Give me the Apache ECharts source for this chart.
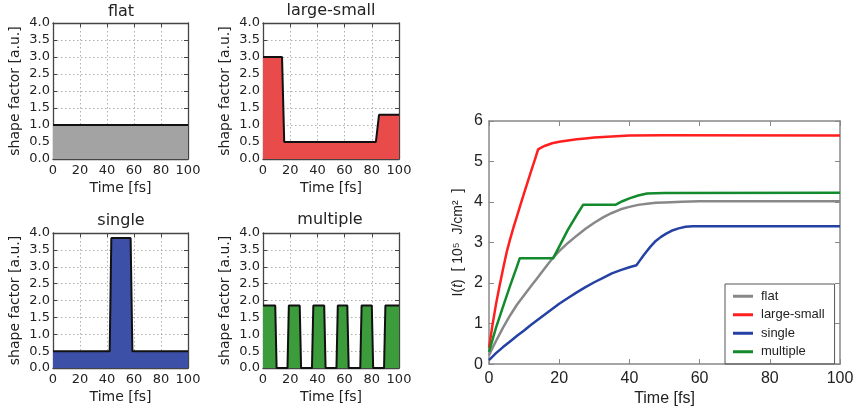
<!DOCTYPE html>
<html><head><meta charset="utf-8">
<script src="https://cdn.jsdelivr.net/npm/echarts@6/dist/echarts.min.js"></script>
<style>html,body{margin:0;padding:0;background:#fff}#c{width:858px;height:412px}</style>
</head><body><div id="c"></div>
<script>
// ---- shape factor panels ----
const flatT = [0, 100];
const flatV = [1.0, 1.0];
const largeSmallT = [0, 14, 15.6, 83, 85.3, 100];
const largeSmallV = [3.0, 3.0, 0.5, 0.5, 1.3, 1.3];
const singleT = [0, 42, 43.2, 57.5, 58.8, 100];
const singleV = [0.5, 0.5, 3.85, 3.85, 0.5, 0.5];
const multipleT = [0, 9, 10, 18, 19, 27, 28, 36, 37, 45, 46, 54, 55, 62, 63, 71.5, 72.5, 80, 81, 89, 90, 100];
const multipleV = [1.85, 1.85, 0, 0, 1.85, 1.85, 0, 0, 1.85, 1.85, 0, 0, 1.85, 1.85, 0, 0, 1.85, 1.85, 0, 0, 1.85, 1.85];
// ---- I(t) curves ----
const flatCurveT = [0, 1, 2, 4, 6, 8, 10, 12, 14, 16, 18, 20, 22.5, 25, 27.5, 30, 32.5, 35, 37.5, 40, 42.5, 45, 47.5, 50, 55, 60, 80, 100];
const flatCurveV = [0.22, 0.4, 0.57, 0.9, 1.2, 1.47, 1.7, 1.93, 2.15, 2.38, 2.6, 2.79, 2.99, 3.17, 3.34, 3.49, 3.62, 3.73, 3.82, 3.88, 3.93, 3.96, 3.98, 3.99, 4.01, 4.02, 4.02, 4.02];
const largeSmallCurveT = [0, 1, 2, 3, 4, 5, 6, 7, 8, 9, 10, 11, 12, 13, 14, 15, 16, 18, 20, 22.5, 25, 27.5, 30, 35, 40, 50, 100];
const largeSmallCurveV = [0.4, 0.97, 1.48, 1.93, 2.35, 2.75, 3.08, 3.38, 3.66, 3.94, 4.22, 4.49, 4.76, 5.03, 5.3, 5.35, 5.39, 5.45, 5.49, 5.52, 5.55, 5.57, 5.59, 5.62, 5.64, 5.65, 5.64];
const singleCurveT = [0, 2, 4, 6, 8, 10, 12, 14, 16, 18, 20, 22.5, 25, 27.5, 30, 32.5, 35, 37.5, 40, 42, 43, 44, 45, 46, 47.5, 49, 50.5, 52, 54, 56, 58, 100];
const singleCurveV = [0.1, 0.27, 0.42, 0.56, 0.7, 0.83, 0.97, 1.1, 1.23, 1.36, 1.49, 1.63, 1.77, 1.9, 2.02, 2.13, 2.24, 2.32, 2.39, 2.44, 2.56, 2.68, 2.79, 2.9, 3.04, 3.14, 3.22, 3.29, 3.35, 3.39, 3.4, 3.4];
const multipleCurveT = [0, 2, 4, 6, 8, 8.75, 18.25, 20, 22.5, 25, 26.8, 36, 38, 40, 42.5, 45, 50, 100];
const multipleCurveV = [0.3, 0.9, 1.42, 1.93, 2.42, 2.61, 2.61, 2.9, 3.32, 3.68, 3.93, 3.93, 4.02, 4.09, 4.16, 4.21, 4.22, 4.23];
// ---- labels ----
const panelTitles = ['flat', 'large-small', 'single', 'multiple'];
const legendNames = ['flat', 'large-small', 'single', 'multiple'];

const pair = (t, v) => t.map((x, i) => [x, v[i]]);

const smallFont = 'DejaVu Sans';
const bigFont = 'Liberation Sans';
const grids = [
  {left: 53, top: 23, width: 135, height: 136},
  {left: 263, top: 23, width: 136, height: 136},
  {left: 53, top: 233, width: 135, height: 135},
  {left: 263, top: 233, width: 136, height: 135},
  {left: 489, top: 121, width: 351, height: 245}
];
const xAxes = [], yAxes = [];
for (let i = 0; i < 5; i++) {
  const big = i === 4;
  const lineCol = big ? '#888' : '#444';
  const font = big ? bigFont : smallFont;
  const fs = big ? 16 : 13;
  const tick = {show: true, inside: true, length: big ? 5 : 4, lineStyle: {color: lineCol, width: 1}};
  const split = big ? {show: false} : {show: true, lineStyle: {type: [1.5, 2.5], color: '#b0b0b0', width: 1}};
  xAxes.push({gridIndex: i, type: 'value', min: 0, max: 100, interval: 20, position: 'bottom',
    axisLine: {show: true, onZero: false, lineStyle: {color: lineCol, width: big ? 1.5 : 1.3}},
    axisTick: tick, splitLine: split,
    axisLabel: {fontFamily: font, fontSize: fs, color: '#222', margin: big ? 6 : 5},
    name: 'Time [fs]', nameLocation: 'middle', nameGap: big ? 16 : 22,
    nameTextStyle: {fontFamily: font, fontSize: big ? 16 : 14, color: '#222', verticalAlign: 'top'}});
  xAxes.push({gridIndex: i, type: 'value', min: 0, max: 100, interval: 20, position: 'top',
    axisLine: {show: true, onZero: false, lineStyle: {color: lineCol, width: big ? 1.5 : 1.3}},
    axisTick: tick, splitLine: {show: false}, axisLabel: {show: false}});
  yAxes.push(big ? {gridIndex: i, type: 'value', min: 0, max: 6, interval: 1, position: 'left',
    axisLine: {show: true, onZero: false, lineStyle: {color: lineCol, width: 1.5}},
    axisTick: tick, splitLine: {show: false},
    axisLabel: {fontFamily: font, fontSize: fs, color: '#222', margin: 6},
    name: '{a|I(}{i|t}{a|)  [ 10⁵  J/cm²  ]}', nameLocation: 'middle', nameGap: 24, nameRotate: 90,
    nameTextStyle: {rich: {a: {fontFamily: bigFont, fontSize: 14, color: '#222'}, i: {fontFamily: bigFont, fontSize: 14, fontStyle: 'italic', color: '#222'}}}}
  : {gridIndex: i, type: 'value', min: 0, max: 4, interval: 0.5, position: 'left',
    axisLine: {show: true, onZero: false, lineStyle: {color: lineCol, width: 1.3}},
    axisTick: tick, splitLine: split,
    axisLabel: {fontFamily: font, fontSize: fs, color: '#222', margin: 3, formatter: v => v.toFixed(1)},
    name: 'shape factor [a.u.]', nameLocation: 'middle', nameGap: 31, nameRotate: 90,
    nameTextStyle: {fontFamily: font, fontSize: 14, color: '#222'}});
  yAxes.push({gridIndex: i, type: 'value', min: 0, max: big ? 6 : 4, interval: big ? 1 : 0.5, position: 'right',
    axisLine: {show: true, onZero: false, lineStyle: {color: lineCol, width: big ? 1.5 : 1.3}},
    axisTick: tick, splitLine: {show: false}, axisLabel: {show: false}});
}

const fills = ['#a3a3a3', '#e94a4a', '#3c50a8', '#3c9c3c'];
const shapeData = [pair(flatT, flatV), pair(largeSmallT, largeSmallV), pair(singleT, singleV), pair(multipleT, multipleV)];
const series = shapeData.map((d, i) => ({
  type: 'line', xAxisIndex: 2 * i, yAxisIndex: 2 * i, data: d, symbol: 'none', silent: true,
  lineStyle: {color: '#111', width: 2}, areaStyle: {color: fills[i], opacity: 1}, z: 3
}));
const curveCols = ['#888888', '#ff1f1f', '#2441a3', '#138a2c'];
const curveData = [pair(flatCurveT, flatCurveV), pair(largeSmallCurveT, largeSmallCurveV), pair(singleCurveT, singleCurveV), pair(multipleCurveT, multipleCurveV)];
curveData.forEach((d, i) => series.push({
  type: 'line', name: legendNames[i], xAxisIndex: 8, yAxisIndex: 8, data: d, symbol: 'none',
  smooth: false, lineStyle: {color: curveCols[i], width: 2.5, join: 'round'}, itemStyle: {color: curveCols[i]}, z: 3
}));

const titleCenters = [[121, 4], [331, 3], [121, 213], [330, 212]];
const chart = echarts.init(document.getElementById('c'), null, {renderer: 'canvas'});
chart.setOption({
  animation: false,
  backgroundColor: '#fff',
  title: panelTitles.map((t, i) => ({text: t, left: titleCenters[i][0], top: titleCenters[i][1], textAlign: 'center', padding: 0,
    textStyle: {fontFamily: smallFont, fontSize: 16, fontWeight: 'normal', color: '#222'}})),
  grid: grids,
  xAxis: xAxes,
  yAxis: yAxes,
  legend: {data: legendNames.map(n => ({name: n, icon: 'rect'})), orient: 'vertical', left: 725, top: 284, padding: [5, 10, 5, 8],
    itemWidth: 20, itemHeight: 3, itemGap: 4, borderColor: '#555', borderWidth: 1,
    textStyle: {fontFamily: bigFont, fontSize: 13, lineHeight: 14.5, color: '#222', padding: [0, 0, 0, 3]}},
  series: series
});
</script></body></html>
